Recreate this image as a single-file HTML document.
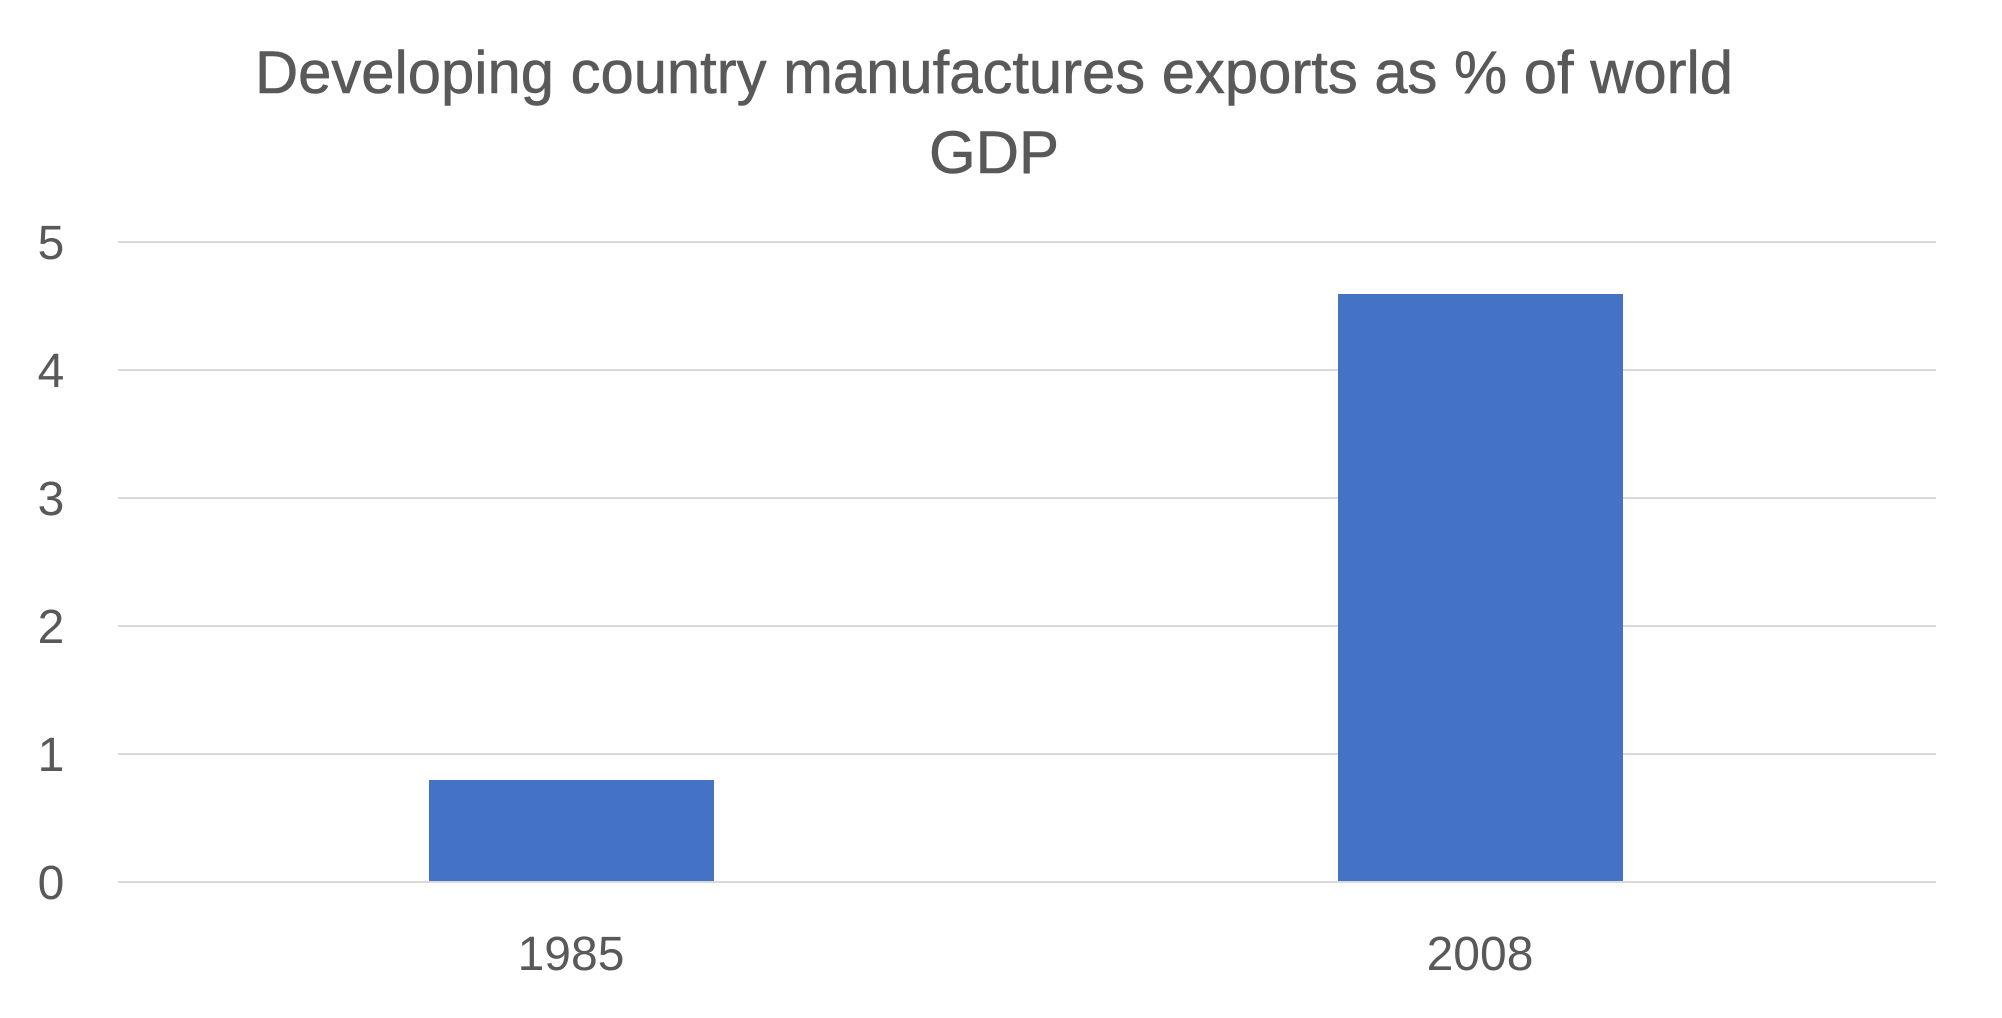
<!DOCTYPE html>
<html><head><meta charset="utf-8"><style>html,body{margin:0;padding:0;background:#fff}svg{display:block}</style></head>
<body>
<svg width="2002" height="1018" viewBox="0 0 2002 1018" xmlns="http://www.w3.org/2000/svg" font-family="Liberation Sans, sans-serif" fill="#595959">
<rect width="2002" height="1018" fill="#fff"/>
<text x="994" y="93" font-size="60" text-anchor="middle" textLength="1478" lengthAdjust="spacingAndGlyphs" stroke="#595959" stroke-width="0.6">Developing country manufactures exports as % of world</text>
<text x="994" y="173" font-size="60" text-anchor="middle" stroke="#595959" stroke-width="0.6">GDP</text>
<g stroke="#d9d9d9" stroke-width="2">
<line x1="118" x2="1936" y1="242" y2="242"/>
<line x1="118" x2="1936" y1="370" y2="370"/>
<line x1="118" x2="1936" y1="498" y2="498"/>
<line x1="118" x2="1936" y1="626" y2="626"/>
<line x1="118" x2="1936" y1="754" y2="754"/>
<line x1="118" x2="1936" y1="882" y2="882"/>
</g>
<rect x="429" y="780" width="285" height="101" fill="#4472c4"/>
<rect x="1338" y="294" width="285" height="587" fill="#4472c4"/>
<g font-size="48" text-anchor="middle">
<text x="51" y="259">5</text>
<text x="51" y="387">4</text>
<text x="51" y="515">3</text>
<text x="51" y="643">2</text>
<text x="51" y="771">1</text>
<text x="51" y="899">0</text>
<text x="571" y="970">1985</text>
<text x="1480" y="970">2008</text>
</g>
</svg>
</body></html>
